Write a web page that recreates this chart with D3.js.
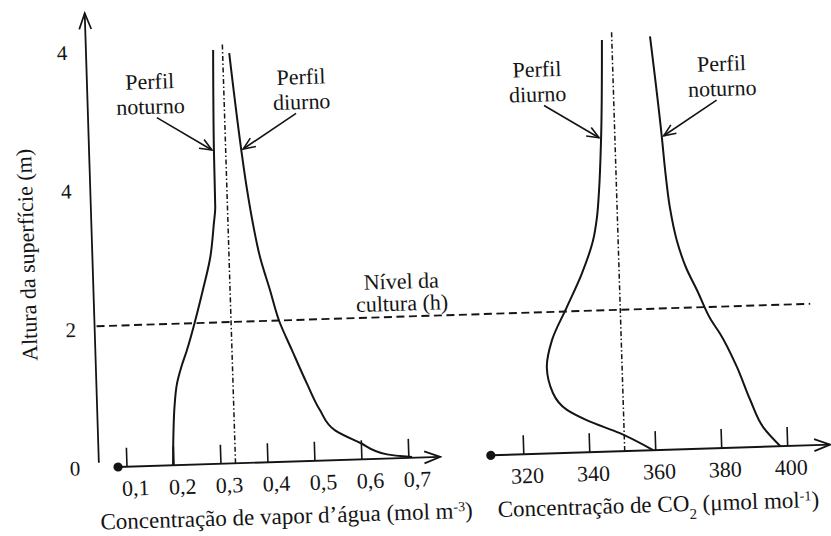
<!DOCTYPE html>
<html>
<head>
<meta charset="utf-8">
<script src="https://cdn.jsdelivr.net/npm/d3@7"></script>
<style>
  body { margin: 0; background: #fff; }
  svg { display: block; }
</style>
</head>
<body>
<svg id="chart" width="831" height="536"></svg>
<script>
// Height axis (m). The top label is printed "4" in the original figure.
const heightTicks = [0, 2, 4, 6];
const heightTickLabels = ['0', '2', '4', '4'];

// Left panel: water vapour concentration (mol m-3)
const vaporTicks = [0.1, 0.2, 0.3, 0.4, 0.5, 0.6, 0.7];
const vaporAxisExtent = [0.081, 0.767];
const vaporNightHeight = [0, 0.46, 0.84, 1.18, 1.41, 1.65, 2.08, 2.51, 2.98, 3.47, 3.70, 4.54, 5.97];
const vaporNightValue = [0.198, 0.201, 0.205, 0.212, 0.222, 0.235, 0.255, 0.273, 0.291, 0.301, 0.305, 0.306, 0.311];
const vaporDayHeight = [0.01, 0.06, 0.24, 0.43, 0.73, 1.12, 1.60, 2.04, 2.48, 2.96, 3.45, 3.93, 4.53, 5.92];
const vaporDayValue = [0.707, 0.654, 0.597, 0.545, 0.514, 0.488, 0.459, 0.433, 0.416, 0.397, 0.384, 0.374, 0.364, 0.345];
const vaporRef = 0.331;

// Right panel: CO2 concentration (umol mol-1)
const co2Ticks = [320, 340, 360, 380, 400];
const co2AxisExtent = [310, 412.9];
const co2DayHeight = [0, 0.26, 0.46, 0.62, 0.87, 1.24, 1.63, 2.10, 2.58, 3.05, 3.38, 3.77, 4.51, 5.94];
const co2DayValue = [359.2, 349.3, 339.5, 333.5, 329.4, 327.8, 329.6, 334.4, 339.3, 343.0, 344.4, 345.3, 346.4, 347.6];
const co2NightHeight = [0, 0.28, 0.68, 1.16, 1.65, 1.85, 2.28, 2.62, 3.01, 3.49, 3.98, 4.53, 5.97];
const co2NightValue = [397.8, 392.8, 389.1, 385.4, 380.6, 378.0, 374.1, 370.9, 368.4, 366.6, 365.6, 364.8, 362.2];
const co2Ref = 350.6;

const refTop = 6.06;
const cropLevel = 2.04;

// ---- layout ----
const ink = '#141414';
const serif = '"Liberation Serif", "DejaVu Serif", "Times New Roman", serif';
const tilt = -1.8;            // the printed figure sits slightly rotated
const pivot = [118, 467];
const base = 467;
const mPx = 69.3;

const svg = d3.select('#chart');
const defs = svg.append('defs');

function marker(id, len, half, w) {
  defs.append('marker')
    .attr('id', id)
    .attr('viewBox', `${-len - 2} ${-half - 2} ${len + 4} ${2 * half + 4}`)
    .attr('refX', 0).attr('refY', 0)
    .attr('markerWidth', len + 4).attr('markerHeight', 2 * half + 4)
    .attr('markerUnits', 'userSpaceOnUse')
    .attr('orient', 'auto')
    .append('path')
      .attr('d', `M${-len},${-half}L0,0L${-len},${half}`)
      .attr('fill', 'none')
      .attr('stroke', ink)
      .attr('stroke-width', w)
      .attr('stroke-linejoin', 'miter');
}
marker('axisHead', 16, 6, 1.7);
marker('noteHead', 12, 5, 1.6);

const g = svg.append('g')
  .attr('transform', `rotate(${tilt},${pivot[0]},${pivot[1]})`)
  .attr('font-family', serif);

const y = d3.scaleLinear().domain([0, 6]).range([base, base - 6 * mPx]);
const xL = d3.scaleLinear().domain([0.1, 0.7]).range([127, 409]);
const xR = d3.scaleLinear().domain([320, 400]).range([524, 788]);

const ptBR = d3.formatLocale({ decimal: ',', thousands: '.', grouping: [3], currency: ['', ''] });
const fmtVapor = ptBR.format('.1f');

const line = (x) => d3.line()
  .x((d) => x(d[1]))
  .y((d) => y(d[0]))
  .curve(d3.curveMonotoneY);

// ---- height axis ----
const yAxisX = xL(0.1) - 28;
g.append('line')
  .attr('x1', yAxisX).attr('y1', y(0.07))
  .attr('x2', yAxisX).attr('y2', y(6.56))
  .attr('stroke', ink).attr('stroke-width', 1.8)
  .attr('marker-end', 'url(#axisHead)');

g.selectAll('.y-label').data(heightTicks).enter().append('text')
  .attr('class', 'y-label')
  .attr('x', yAxisX - 24)
  .attr('y', (d) => y(d))
  .attr('dy', '0.35em')
  .attr('text-anchor', 'middle')
  .attr('font-size', 21)
  .attr('fill', ink)
  .text((d, i) => heightTickLabels[i]);

g.append('text')
  .attr('transform', `translate(${yAxisX - 58},${y(3.1)}) rotate(-90)`)
  .attr('text-anchor', 'middle')
  .attr('font-size', 22)
  .attr('fill', ink)
  .text('Altura da superfície (m)');

// ---- concentration axes ----
function drawAxis(x, extent, ticks, fmt, labelShift) {
  const ax = g.append('g');
  ax.append('line')
    .attr('x1', x(extent[0])).attr('y1', base)
    .attr('x2', x(extent[1])).attr('y2', base)
    .attr('stroke', ink).attr('stroke-width', 1.9)
    .attr('marker-end', 'url(#axisHead)');
  ax.append('circle')
    .attr('cx', x(extent[0])).attr('cy', base).attr('r', 4.6)
    .attr('fill', ink);
  ax.selectAll('.tick').data(ticks).enter().append('line')
    .attr('class', 'tick')
    .attr('x1', (d) => x(d)).attr('x2', (d) => x(d))
    .attr('y1', base).attr('y2', base - 19)
    .attr('stroke', ink).attr('stroke-width', 1.6);
  ax.selectAll('.tick-label').data(ticks).enter().append('text')
    .attr('class', 'tick-label')
    .attr('x', (d) => x(d) + labelShift)
    .attr('y', base + 29)
    .attr('text-anchor', 'middle')
    .attr('font-size', 22)
    .attr('fill', ink)
    .text(fmt);
  return ax;
}
drawAxis(xL, vaporAxisExtent, vaporTicks, fmtVapor, 8);
drawAxis(xR, co2AxisExtent, co2Ticks, (d) => d, 3);

// axis titles
const tL = g.append('text')
  .attr('x', 285).attr('y', base + 62)
  .attr('text-anchor', 'middle')
  .attr('font-size', 23)
  .attr('fill', ink);
tL.append('tspan').text('Concentração de vapor d’água (mol m');
tL.append('tspan').attr('baseline-shift', 'super').attr('font-size', 14).text('-3');
tL.append('tspan').text(')');

const tR = g.append('text')
  .attr('x', 657).attr('y', base + 62)
  .attr('text-anchor', 'middle')
  .attr('font-size', 23)
  .attr('fill', ink);
tR.append('tspan').text('Concentração de CO');
tR.append('tspan').attr('baseline-shift', 'sub').attr('font-size', 15).text('2');
tR.append('tspan').text(' (μmol mol');
tR.append('tspan').attr('baseline-shift', 'super').attr('font-size', 14).text('-1');
tR.append('tspan').text(')');

// ---- crop level ----
g.append('line')
  .attr('x1', yAxisX + 2).attr('y1', y(cropLevel))
  .attr('x2', xR(400) + 27).attr('y2', y(cropLevel))
  .attr('stroke', ink).attr('stroke-width', 1.9)
  .attr('stroke-dasharray', '8,4.5');

const crop = g.append('text')
  .attr('text-anchor', 'middle')
  .attr('font-size', 22)
  .attr('fill', ink);
crop.append('tspan').attr('x', xL(0.7) - 2).attr('y', y(cropLevel) - 28).text('Nível da');
crop.append('tspan').attr('x', xL(0.7) - 2).attr('y', y(cropLevel) - 6).text('cultura (h)');

// ---- reference (dash-dot) lines ----
[[xL, vaporRef], [xR, co2Ref]].forEach(([x, v]) => {
  g.append('line')
    .attr('x1', x(v)).attr('y1', y(0))
    .attr('x2', x(v)).attr('y2', y(refTop))
    .attr('stroke', ink).attr('stroke-width', 1.5)
    .attr('stroke-dasharray', '5,2.5,1.5,2.5');
});

// ---- profiles ----
const profiles = [
  { x: xL, h: vaporNightHeight, v: vaporNightValue },
  { x: xL, h: vaporDayHeight, v: vaporDayValue },
  { x: xR, h: co2DayHeight, v: co2DayValue },
  { x: xR, h: co2NightHeight, v: co2NightValue },
];
profiles.forEach((p) => {
  p.points = d3.zip(p.h, p.v);
  g.append('path')
    .datum(p.points)
    .attr('d', line(p.x))
    .attr('fill', 'none')
    .attr('stroke', ink)
    .attr('stroke-width', 2);
});

// ---- labels with arrows ----
const notes = [
  { p: profiles[0], lines: ['Perfil', 'noturno'], side: -1 },
  { p: profiles[1], lines: ['Perfil', 'diurno'], side: 1 },
  { p: profiles[2], lines: ['Perfil', 'diurno'], side: -1 },
  { p: profiles[3], lines: ['Perfil', 'noturno'], side: 1 },
];
const noteHeight = 4.53;
notes.forEach((n) => {
  const valAt = d3.scaleLinear().domain(n.p.h).range(n.p.v);
  const tipX = n.p.x(valAt(noteHeight)) + 2 * n.side;
  const tipY = y(noteHeight);
  const tailX = tipX + 54 * n.side;
  const tailY = tipY - 34;
  g.append('line')
    .attr('x1', tailX).attr('y1', tailY)
    .attr('x2', tipX).attr('y2', tipY)
    .attr('stroke', ink).attr('stroke-width', 1.6)
    .attr('marker-end', 'url(#noteHead)');
  const t = g.append('text')
    .attr('text-anchor', 'middle')
    .attr('font-size', 22)
    .attr('fill', ink);
  n.lines.forEach((s, i) => {
    t.append('tspan')
      .attr('x', tailX + 6 * n.side)
      .attr('y', tailY - 29 + i * 25)
      .text(s);
  });
});
</script>
</body>
</html>
